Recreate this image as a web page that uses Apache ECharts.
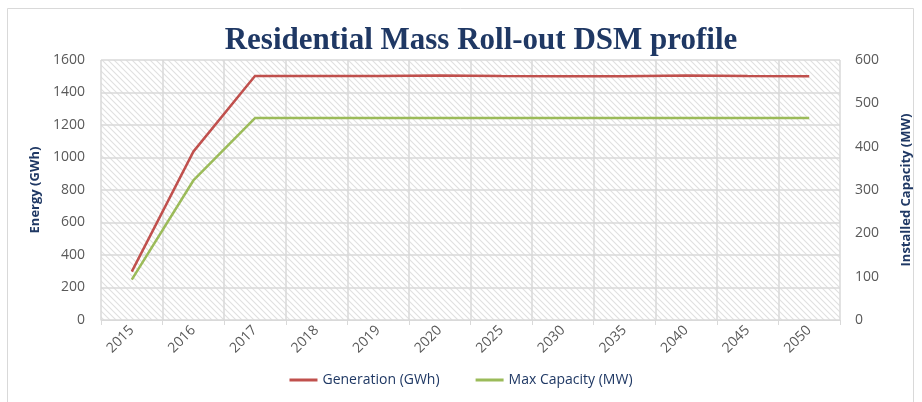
<!DOCTYPE html>
<html>
<head>
<meta charset="utf-8">
<script src="https://cdn.jsdelivr.net/npm/echarts@6/dist/echarts.min.js"></script>
<style>
html,body{margin:0;padding:0;background:#fff;}
#chart{width:922px;height:402px;}
</style>
</head>
<body>
<div id="chart"></div>
<script>
const categories = ['2015','2016','2017','2018','2019','2020','2025','2030','2035','2040','2045','2050'];
const generation = [298, 1036, 1502, 1502, 1502, 1505, 1502, 1500, 1500, 1505, 1502, 1500];
const maxCapacity = [93, 322, 466, 466, 466, 466, 466, 466, 466, 466, 466, 466];
const leftTicks = [0, 1600, 200];
const rightTicks = [0, 600, 100];

function hatch() {
  const c = document.createElement('canvas');
  c.width = 6; c.height = 6;
  const g = c.getContext('2d');
  g.fillStyle = '#ffffff';
  g.fillRect(0, 0, 6, 6);
  g.strokeStyle = '#e0e0e0';
  g.lineWidth = 1.1;
  g.beginPath();
  g.moveTo(-1, -1); g.lineTo(7, 7);
  g.moveTo(-4, 2); g.lineTo(4, 10);
  g.moveTo(2, -4); g.lineTo(10, 4);
  g.stroke();
  return c;
}

const navy = '#1F3864';
const grey = '#595959';
const chart = echarts.init(document.getElementById('chart'));
chart.setOption({
  backgroundColor: '#ffffff',
  animation: false,
  title: {
    text: 'Residential Mass Roll-out DSM profile',
    left: 476, top: 20, textAlign: 'center',
    textStyle: { fontFamily: 'Liberation Serif', fontWeight: 'bold', fontSize: 31, color: navy }
  },
  graphic: [{
    type: 'rect', shape: { x: 7.5, y: 8.5, width: 906, height: 400 },
    style: { fill: 'none', stroke: '#d9d9d9', lineWidth: 1 }, silent: true
  }],
  grid: {
    left: 101, right: 82, top: 60, bottom: 82, show: true,
    backgroundColor: { image: hatch(), repeat: 'repeat' },
    borderWidth: 0
  },
  legend: {
    bottom: 10, left: 'center', itemWidth: 28, itemHeight: 3, itemGap: 36, icon: 'rect',
    textStyle: { fontFamily: 'Open Sans', fontSize: 14, color: navy },
    data: ['Generation (GWh)', 'Max Capacity (MW)']
  },
  xAxis: {
    type: 'category', data: categories, boundaryGap: true,
    axisLine: { lineStyle: { color: '#d9d9d9', width: 1 } },
    axisTick: { show: true, length: 5, lineStyle: { color: '#d9d9d9' } },
    splitLine: { show: true, lineStyle: { color: '#d9d9d9', width: 1.5 } },
    axisLabel: { rotate: 45, margin: 8, fontFamily: 'Open Sans', fontSize: 14, color: grey }
  },
  yAxis: [{
    type: 'value', min: leftTicks[0], max: leftTicks[1], interval: leftTicks[2], position: 'left',
    name: 'Energy (GWh)', nameLocation: 'middle', nameGap: 58, nameRotate: 90,
    nameTextStyle: { fontFamily: 'Open Sans', fontWeight: 'bold', fontSize: 13, color: navy },
    axisLine: { show: false }, axisTick: { show: false },
    splitLine: { show: true, lineStyle: { color: '#d9d9d9', width: 1.5 } },
    axisLabel: { margin: 16, fontFamily: 'Open Sans', fontSize: 14, color: grey, formatter: v => String(v) }
  }, {
    type: 'value', min: rightTicks[0], max: rightTicks[1], interval: rightTicks[2], position: 'right',
    name: 'Installed Capacity (MW)', nameLocation: 'middle', nameGap: 60, nameRotate: 90,
    nameTextStyle: { fontFamily: 'Open Sans', fontWeight: 'bold', fontSize: 13, color: navy },
    axisLine: { show: false }, axisTick: { show: false },
    splitLine: { show: false },
    axisLabel: { margin: 15, fontFamily: 'Open Sans', fontSize: 14, color: grey, formatter: v => String(v) }
  }],
  series: [{
    name: 'Generation (GWh)', type: 'line', yAxisIndex: 0, data: generation,
    symbol: 'none', lineStyle: { color: '#C0504D', width: 2.5 }, itemStyle: { color: '#C0504D' }
  }, {
    name: 'Max Capacity (MW)', type: 'line', yAxisIndex: 1, data: maxCapacity,
    symbol: 'none', lineStyle: { color: '#9BBB59', width: 2.5 }, itemStyle: { color: '#9BBB59' }
  }]
});
</script>
</body>
</html>
